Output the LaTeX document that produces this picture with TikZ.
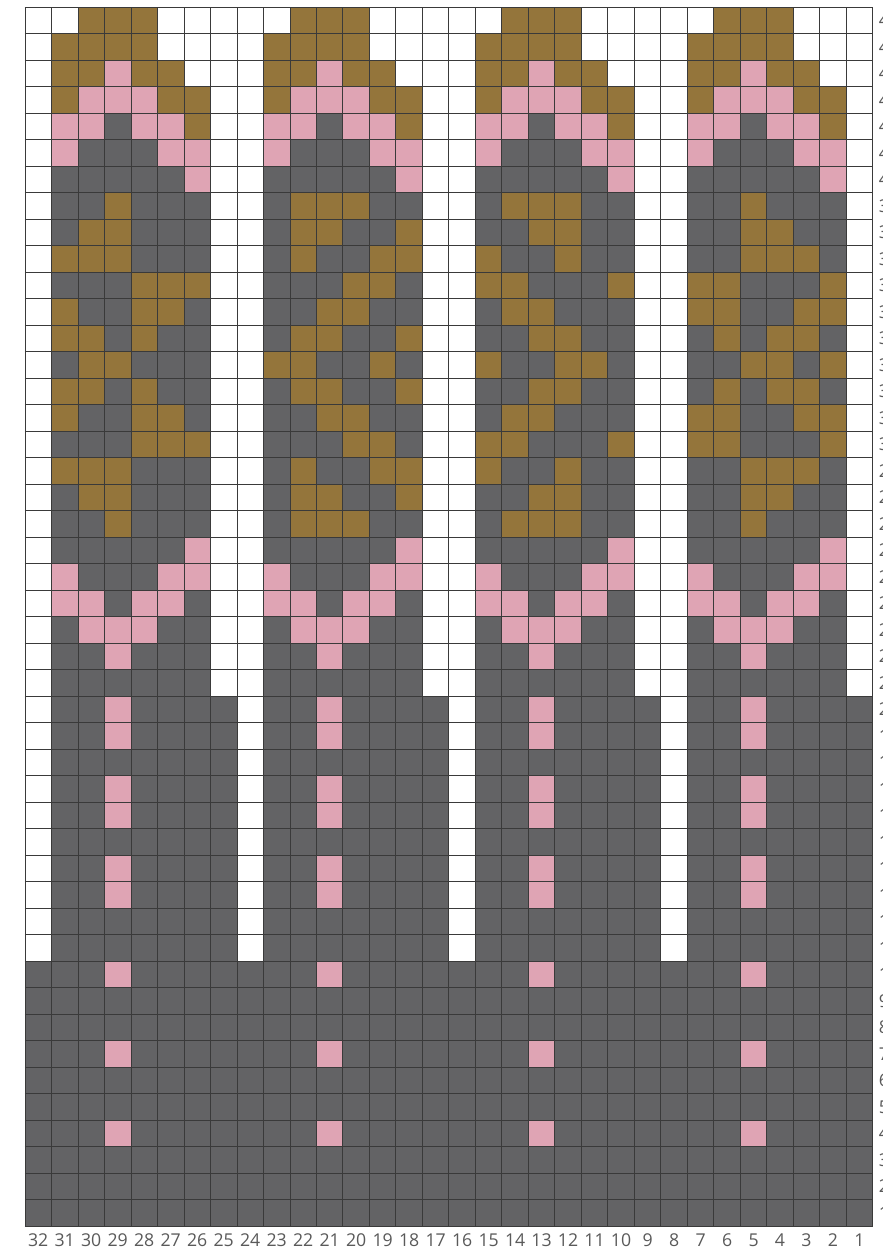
\documentclass[tikz,border=0pt]{standalone}
\usepackage{fontspec}
\newfontfamily\chartfont{Open Sans}

\definecolor{yarnG}{HTML}{636365}
\definecolor{yarnB}{HTML}{94753B}
\definecolor{yarnP}{HTML}{DFA4B4}
\definecolor{yarnW}{HTML}{FFFFFF}
\definecolor{gridcol}{HTML}{3A3A3A}
\definecolor{labelcol}{HTML}{5A5A5A}

\newcount\stitchx
\def\knitrow#1#2{\stitchx=0 \def\rowy{#1}\edef\rowcells{#2}\expandafter\knitcells\rowcells\relax}
\def\knitcells#1{\ifx#1\relax\else
  \fill[yarn#1] (\the\stitchx,\rowy-1) rectangle ++(1,1);
  \advance\stitchx by 1
  \expandafter\knitcells\fi}

\tikzset{
  gridline/.style={gridcol, line width=0.45pt, step=0.5cm},
  collabel/.style={font=\chartfont\fontsize{9.5}{10}\selectfont, text=labelcol, inner sep=0pt},
  rowlabel/.style={font=\chartfont\fontsize{9.5}{10}\selectfont, text=labelcol, inner sep=0pt, anchor=west}
}

\begin{document}
\begin{tikzpicture}[x=0.5cm,y=0.5cm]
\useasboundingbox (-0.943,-0.868) rectangle (32.351,46.276);
\fill[white] (-0.943,-0.868) rectangle (32.351,46.276);

\foreach \r/\s in {
  46/WWBBBWWWWWBBBWWWWWBBBWWWWWBBBWWW,
  45/WBBBBWWWWBBBBWWWWBBBBWWWWBBBBWWW,
  44/WBBPBBWWWBBPBBWWWBBPBBWWWBBPBBWW,
  43/WBPPPBBWWBPPPBBWWBPPPBBWWBPPPBBW,
  42/WPPGPPBWWPPGPPBWWPPGPPBWWPPGPPBW,
  41/WPGGGPPWWPGGGPPWWPGGGPPWWPGGGPPW,
  40/WGGGGGPWWGGGGGPWWGGGGGPWWGGGGGPW,
  39/WGGBGGGWWGBBBGGWWGBBBGGWWGGBGGGW,
  38/WGBBGGGWWGBBGGBWWGGBBGGWWGGBBGGW,
  37/WBBBGGGWWGBGGBBWWBGGBGGWWGGBBBGW,
  36/WGGGBBBWWGGGBBGWWBBGGGBWWBBGGGBW,
  35/WBGGBBGWWGGBBGGWWGBBGGGWWBBGGBBW,
  34/WBBGBGGWWGBBGGBWWGGBBGGWWGBGBBGW,
  33/WGBBGGGWWBBGGBGWWBGGBBGWWGGBBGBW,
  32/WBBGBGGWWGBBGGBWWGGBBGGWWGBGBBGW,
  31/WBGGBBGWWGGBBGGWWGBBGGGWWBBGGBBW,
  30/WGGGBBBWWGGGBBGWWBBGGGBWWBBGGGBW,
  29/WBBBGGGWWGBGGBBWWBGGBGGWWGGBBBGW,
  28/WGBBGGGWWGBBGGBWWGGBBGGWWGGBBGGW,
  27/WGGBGGGWWGBBBGGWWGBBBGGWWGGBGGGW,
  26/WGGGGGPWWGGGGGPWWGGGGGPWWGGGGGPW,
  25/WPGGGPPWWPGGGPPWWPGGGPPWWPGGGPPW,
  24/WPPGPPGWWPPGPPGWWPPGPPGWWPPGPPGW,
  23/WGPPPGGWWGPPPGGWWGPPPGGWWGPPPGGW,
  22/WGGPGGGWWGGPGGGWWGGPGGGWWGGPGGGW,
  21/WGGGGGGWWGGGGGGWWGGGGGGWWGGGGGGW,
  20/WGGPGGGGWGGPGGGGWGGPGGGGWGGPGGGG,
  19/WGGPGGGGWGGPGGGGWGGPGGGGWGGPGGGG,
  18/WGGGGGGGWGGGGGGGWGGGGGGGWGGGGGGG,
  17/WGGPGGGGWGGPGGGGWGGPGGGGWGGPGGGG,
  16/WGGPGGGGWGGPGGGGWGGPGGGGWGGPGGGG,
  15/WGGGGGGGWGGGGGGGWGGGGGGGWGGGGGGG,
  14/WGGPGGGGWGGPGGGGWGGPGGGGWGGPGGGG,
  13/WGGPGGGGWGGPGGGGWGGPGGGGWGGPGGGG,
  12/WGGGGGGGWGGGGGGGWGGGGGGGWGGGGGGG,
  11/WGGGGGGGWGGGGGGGWGGGGGGGWGGGGGGG,
  10/GGGPGGGGGGGPGGGGGGGPGGGGGGGPGGGG,
  9/GGGGGGGGGGGGGGGGGGGGGGGGGGGGGGGG,
  8/GGGGGGGGGGGGGGGGGGGGGGGGGGGGGGGG,
  7/GGGPGGGGGGGPGGGGGGGPGGGGGGGPGGGG,
  6/GGGGGGGGGGGGGGGGGGGGGGGGGGGGGGGG,
  5/GGGGGGGGGGGGGGGGGGGGGGGGGGGGGGGG,
  4/GGGPGGGGGGGPGGGGGGGPGGGGGGGPGGGG,
  3/GGGGGGGGGGGGGGGGGGGGGGGGGGGGGGGG,
  2/GGGGGGGGGGGGGGGGGGGGGGGGGGGGGGGG,
  1/GGGGGGGGGGGGGGGGGGGGGGGGGGGGGGGG}
  \knitrow{\r}{\s};

\draw[gridline] (0,0) grid (32,46);

\foreach \c in {1,...,32}
  \node[collabel] (col\c) at ({32-\c+0.5},-0.52) {\c};
\foreach \r in {1,...,46}
  \node[rowlabel] (row\r) at (32.22,\r-0.5) {\r};
\end{tikzpicture}
\end{document}
